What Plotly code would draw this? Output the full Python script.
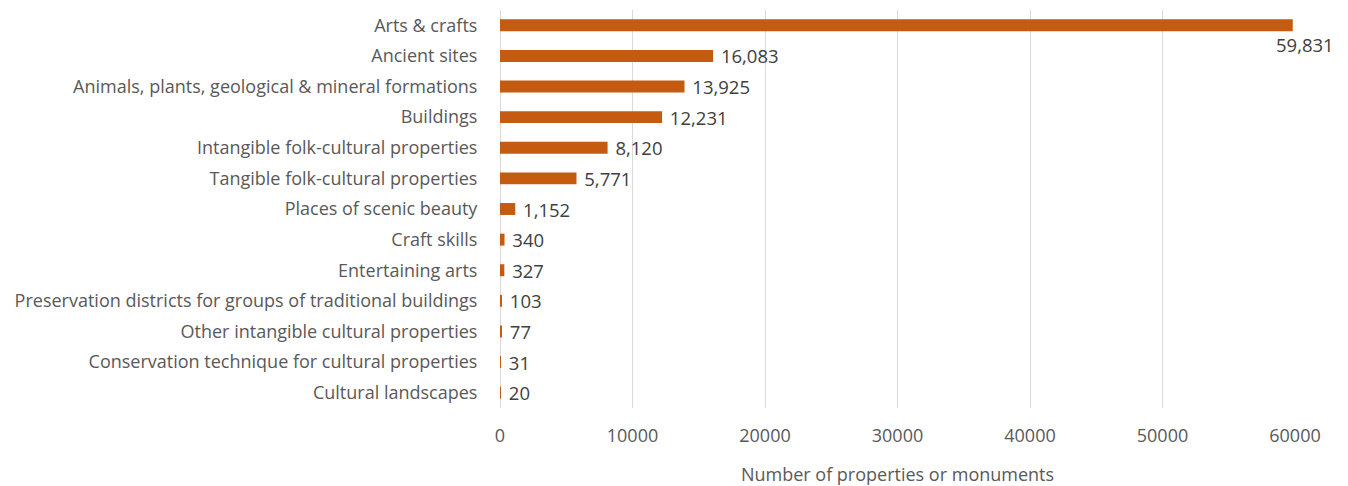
import plotly.graph_objects as go

categories = [
    "Arts & crafts",
    "Ancient sites",
    "Animals, plants, geological & mineral formations",
    "Buildings",
    "Intangible folk-cultural properties",
    "Tangible folk-cultural properties",
    "Places of scenic beauty",
    "Craft skills",
    "Entertaining arts",
    "Preservation districts for groups of traditional buildings",
    "Other intangible cultural properties",
    "Conservation technique for cultural properties",
    "Cultural landscapes",
]
counts = [59831, 16083, 13925, 12231, 8120, 5771, 1152, 340, 327, 103, 77, 31, 20]
x_ticks = [0, 10000, 20000, 30000, 40000, 50000, 60000]

FONT = "'Open Sans', Lato, sans-serif"
SIZE = 18
VALUE_SIZE = 18.5
TEXT = "#595959"
BAR = "#C55A11"

labels = [f"{v:,}" for v in counts]
# the longest bar carries its label as an annotation below the bar end
bar_text = [""] + [" " + s for s in labels[1:]]

fig = go.Figure(
    go.Bar(
        x=counts,
        y=categories,
        orientation="h",
        marker=dict(color=BAR, line=dict(width=0)),
        text=bar_text,
        textposition="outside",
        constraintext="none",
        textfont=dict(family=FONT, size=VALUE_SIZE, color="#404040"),
        cliponaxis=False,
    )
)

fig.add_annotation(
    x=counts[0], y=categories[0], text=labels[0],
    showarrow=False, xanchor="center", yanchor="middle",
    xshift=12, yshift=-19,
    font=dict(family=FONT, size=VALUE_SIZE, color="#404040"),
)

fig.update_layout(
    width=1348, height=486,
    margin=dict(l=500, r=53, t=10, b=78),
    paper_bgcolor="white", plot_bgcolor="white",
    bargap=0.61,
    showlegend=False,
    font=dict(family=FONT, size=SIZE, color=TEXT),
)
fig.update_xaxes(
    range=[0, 60000],
    automargin=False,
    tickvals=x_ticks,
    ticktext=[str(t) for t in x_ticks],
    showgrid=True, gridcolor="#D9D9D9", gridwidth=1,
    zeroline=True, zerolinecolor="#D9D9D9", zerolinewidth=1,
    showline=False,
    ticks="outside", ticklen=11, tickcolor="rgba(0,0,0,0)",
    tickfont=dict(family=FONT, size=SIZE, color=TEXT),
    title=dict(text="Number of properties or monuments", standoff=22,
               font=dict(family=FONT, size=SIZE, color=TEXT)),
)
fig.update_yaxes(
    range=[len(categories) - 0.5, -0.5],
    automargin=False,
    showgrid=False,
    ticks="outside", ticklen=18, tickcolor="rgba(0,0,0,0)",
    tickfont=dict(family=FONT, size=SIZE, color=TEXT),
)

fig.write_html("out.html")
